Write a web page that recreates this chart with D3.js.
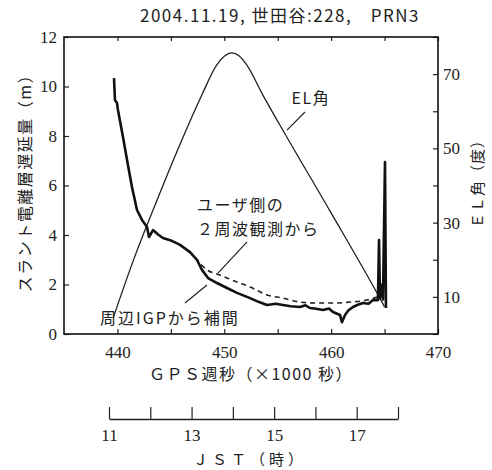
<!DOCTYPE html>
<html>
<head>
<meta charset="utf-8">
<script src="https://cdnjs.cloudflare.com/ajax/libs/d3/7.8.5/d3.min.js"></script>
<style>
body { margin: 0; background: #fff; }
svg { display: block; background: #fff; }
.jp { font-family: "Noto Sans CJK JP", sans-serif; fill: #222; }
.num text { font-family: "Liberation Serif", serif; font-size: 17px; fill: #222; }
.num line { stroke: #222; stroke-width: 1.2; }
</style>
</head>
<body>
<div id="grafico"></div>
<script>
// EL角 (度) vs GPS週秒 (x1000)
var el_time = [439.6, 441.5, 443.6, 445.9, 447.9, 449.3, 450.0, 450.7, 451.4, 452.1, 453.6, 455.2, 459.9, 464.3, 465.0];
var el_deg  = [4.3, 19.9, 35.3, 51.4, 64.4, 72.5, 74.8, 75.7, 74.9, 72.5, 64.4, 56.3, 33.1, 11.0, 7.3];

// 周辺IGPから補間 (m)
var igp_time  = [439.68, 439.77, 439.96, 440.05, 440.52, 440.90, 441.36, 441.83, 442.30, 442.77, 442.95, 443.33,
                 443.8, 444.26, 445.0, 445.86, 446.79, 447.45, 447.91, 448.48, 449.32, 450.25, 451.19, 452.41,
                 453.2, 454.00, 454.8, 455.49, 456.2, 457.08, 457.6, 458.02, 458.6, 459.24, 459.8, 460.17,
                 460.83, 461.01, 461.30, 461.6, 462.04, 462.5, 462.98, 463.5, 463.92, 464.38, 464.48, 464.57,
                 464.76, 464.85, 465.04, 465.13];
var igp_delay = [10.34, 9.45, 9.33, 9.05, 7.96, 7.03, 5.94, 5.01, 4.61, 4.32, 3.92, 4.20,
                 4.02, 3.88, 3.78, 3.60, 3.31, 2.99, 2.59, 2.26, 2.06, 1.86, 1.66, 1.45,
                 1.30, 1.17, 1.22, 1.17, 1.12, 1.09, 1.16, 1.05, 1.02, 0.97, 1.03, 0.89,
                 0.77, 0.48, 0.77, 0.95, 1.09, 1.18, 1.25, 1.22, 1.37, 1.37, 3.80, 1.45,
                 2.00, 1.40, 6.95, 1.05];

// ユーザ側の2周波観測から (m)
var dual_time  = [446.0, 446.79, 448.38, 449.60, 451.19, 452.41, 454.00, 455.49, 457.08, 458.68, 460.17, 461.76, 463.35, 464.29];
var dual_delay = [3.55, 3.31, 2.59, 2.38, 2.10, 1.90, 1.58, 1.45, 1.29, 1.25, 1.25, 1.29, 1.37, 1.49];

var ticks_x  = [440, 445, 450, 455, 460, 465, 470];
var ticks_y  = [0, 2, 4, 6, 8, 10, 12];
var ticks_el = [0, 10, 20, 30, 40, 50, 60, 70, 80];
var hours_jst = [11, 12, 13, 14, 15, 16, 17, 18];

var width = 492, height = 470;
var plot_l = 64, plot_r = 438, plot_t = 37, plot_b = 334;

var x = d3.scaleLinear().domain([435, 470]).range([plot_l, plot_r]);
var y = d3.scaleLinear().domain([0, 12]).range([plot_b, plot_t]);
var y_el = d3.scaleLinear().domain([0, 80]).range([plot_b, plot_t]);
var x_jst = d3.scaleLinear().domain([11, 18]).range([109, 398]);

var svg = d3.select("#grafico")
            .append("svg")
            .attr("width", width)
            .attr("height", height);

function no_domain(g){ g.select(".domain").remove(); }

// eixos
svg.append("g")
    .attr("class", "num")
    .attr("transform", "translate(0," + plot_b + ")")
    .call(d3.axisBottom(x).tickValues(ticks_x).tickSizeInner(-5).tickSizeOuter(0).tickPadding(12)
            .tickFormat(function(d){ return d % 10 === 0 ? d : ""; }))
    .call(no_domain);

svg.append("g")
    .attr("class", "num")
    .attr("transform", "translate(0," + plot_t + ")")
    .call(d3.axisTop(x).tickValues(ticks_x).tickSizeInner(-4).tickSizeOuter(0).tickFormat(""))
    .call(no_domain);

svg.append("g")
    .attr("class", "num")
    .attr("transform", "translate(" + plot_l + ",0)")
    .call(d3.axisLeft(y).tickValues(ticks_y).tickSizeInner(-5).tickSizeOuter(0).tickPadding(7))
    .call(no_domain);

svg.append("g")
    .attr("class", "num")
    .attr("transform", "translate(" + plot_r + ",0)")
    .call(d3.axisRight(y_el).tickValues(ticks_el).tickSizeInner(-5).tickSizeOuter(0).tickPadding(5)
            .tickFormat(function(d){ return d % 20 === 10 ? d : ""; }))
    .call(no_domain);

svg.append("rect")
    .attr("x", plot_l)
    .attr("y", plot_t)
    .attr("width", plot_r - plot_l)
    .attr("height", plot_b - plot_t)
    .style("fill", "none")
    .style("stroke", "#111")
    .style("stroke-width", 1.6);

// JST
var jst = svg.append("g")
    .attr("class", "num")
    .attr("transform", "translate(0,419)")
    .call(d3.axisBottom(x_jst).tickValues(hours_jst).tickSizeInner(-12).tickSizeOuter(0).tickPadding(10)
            .tickFormat(function(d){ return d % 2 === 1 ? d : ""; }));
jst.select(".domain").style("stroke", "#222").style("stroke-width", 1.5);

// curvas
var line_el = d3.line()
    .x(function(d){ return x(d[0]); })
    .y(function(d){ return y_el(d[1]); })
    .curve(d3.curveMonotoneX);

var line_m = d3.line()
    .x(function(d){ return x(d[0]); })
    .y(function(d){ return y(d[1]); });

svg.append("path")
    .attr("d", line_el(d3.zip(el_time, el_deg)))
    .style("fill", "none")
    .style("stroke", "#222")
    .style("stroke-width", 1.3);

svg.append("path")
    .attr("d", line_m.curve(d3.curveMonotoneX)(d3.zip(dual_time, dual_delay)))
    .style("fill", "none")
    .style("stroke", "#222")
    .style("stroke-width", 1.6)
    .style("stroke-dasharray", "5,4");

svg.append("path")
    .attr("d", line_m.curve(d3.curveLinear)(d3.zip(igp_time, igp_delay)))
    .style("fill", "none")
    .style("stroke", "#111")
    .style("stroke-width", 2.6)
    .style("stroke-linejoin", "round");

// anotacoes
var notes = [
    {text: "EL角", t: 456.3, m: 9.29, sp: 1.5, from: [457.55, 8.97], to: [455.87, 8.24]},
    {text: "ユーザ側の", t: 447.45, m: 4.97, sp: 1.5},
    {text: "２周波観測から", t: 447.45, m: 4.0, sp: 1.5, from: [452.13, 3.72], to: [449.41, 2.46]},
    {text: "周辺IGPから補間", t: 438.37, m: 0.40, sp: 2, from: [446.32, 1.25], to: [448.38, 1.98]}
];

notes.forEach(function(n){
    svg.append("text")
        .attr("class", "jp")
        .attr("x", x(n.t))
        .attr("y", y(n.m))
        .style("font-size", "16px")
        .style("letter-spacing", n.sp + "px")
        .text(n.text);
    if (n.from) {
        svg.append("line")
            .attr("x1", x(n.from[0])).attr("y1", y(n.from[1]))
            .attr("x2", x(n.to[0])).attr("y2", y(n.to[1]))
            .style("stroke", "#222")
            .style("stroke-width", 1.2);
    }
});

// titulos
svg.append("text")
    .attr("class", "jp")
    .attr("x", 140)
    .attr("y", 22)
    .style("font-size", "17px")
    .style("letter-spacing", "1.5px")
    .text("2004.11.19, 世田谷:228,　PRN3");

svg.append("text")
    .attr("class", "jp")
    .attr("x", 251)
    .attr("y", 380)
    .attr("text-anchor", "middle")
    .style("font-size", "16px")
    .style("letter-spacing", "1.5px")
    .text("ＧＰＳ週秒（×1000 秒）");

svg.append("text")
    .attr("class", "jp")
    .attr("x", 250)
    .attr("y", 465)
    .attr("text-anchor", "middle")
    .style("font-size", "15px")
    .style("letter-spacing", "4px")
    .text("ＪＳＴ（時）");

svg.append("text")
    .attr("class", "jp")
    .attr("transform", "translate(25,179) rotate(-90)")
    .attr("text-anchor", "middle")
    .attr("dy", "0.35em")
    .style("font-size", "16px")
    .style("letter-spacing", "1.5px")
    .text("スラント電離層遅延量（m）");

svg.append("text")
    .attr("class", "jp")
    .attr("transform", "translate(478,180) rotate(-90)")
    .attr("text-anchor", "middle")
    .attr("dy", "0.35em")
    .style("font-size", "15px")
    .style("letter-spacing", "1px")
    .text("ＥＬ角（度）");
</script>
</body>
</html>
